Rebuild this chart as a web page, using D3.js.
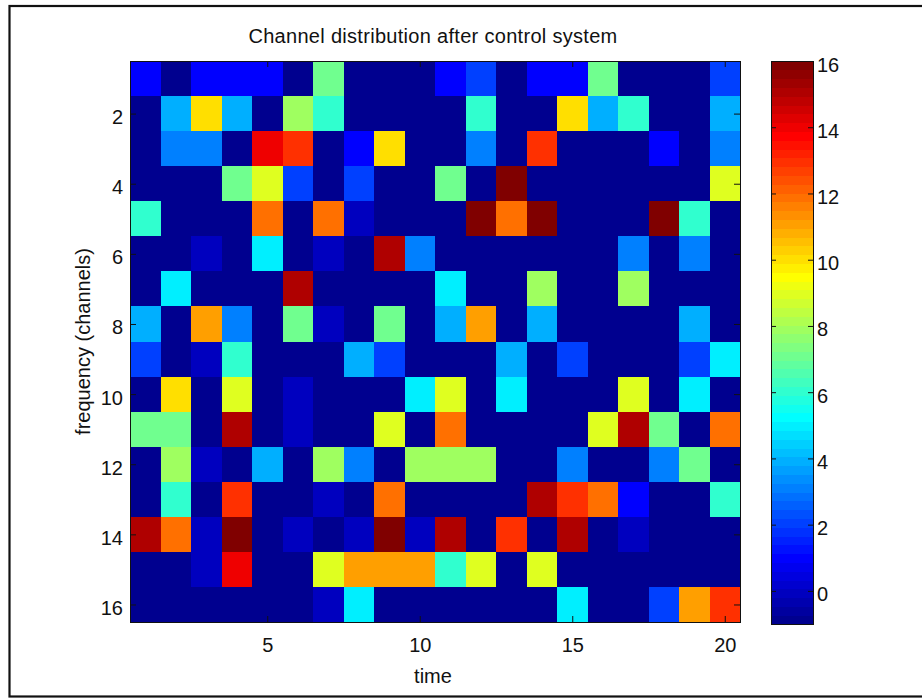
<!DOCTYPE html>
<html><head><meta charset="utf-8">
<script src="https://cdn.jsdelivr.net/npm/d3@7"></script>
<style>
html,body{margin:0;padding:0;background:#fff;}
svg{display:block;}
text{font-family:"Liberation Sans",Arial,Helvetica,sans-serif;fill:#111;}
</style>
</head><body>
<svg id="chart" width="922" height="698"></svg>
<script>
// ---------- data ----------
const timeSlots = [1,2,3,4,5,6,7,8,9,10,11,12,13,14,15,16,17,18,19,20];
const channels  = [1,2,3,4,5,6,7,8,9,10,11,12,13,14,15,16];
const xTicks = [5,10,15,20];
const yTicks = [2,4,6,8,10,12,14,16];
const colorTicks = [0,2,4,6,8,10,12,14,16];
// one row per channel, one value per time slot
const distribution = [
  [ 1,-1, 1, 1, 1,-1, 7,-1,-1,-1, 1, 2,-1, 1, 1, 7,-1,-1,-1, 2],
  [-1, 4,10, 4,-1, 8, 6,-1,-1,-1,-1, 6,-1,-1,10, 4, 6,-1,-1, 4],
  [-1, 3, 3,-1,14,13,-1, 1,10,-1,-1, 3,-1,13,-1,-1,-1, 1,-1, 3],
  [-1,-1,-1, 7, 9, 2,-1, 2,-1,-1, 7,-1,16,-1,-1,-1,-1,-1,-1, 9],
  [ 6,-1,-1,-1,12,-1,12, 0,-1,-1,-1,16,12,16,-1,-1,-1,16, 6,-1],
  [-1,-1, 0,-1, 5,-1, 0,-1,15, 3,-1,-1,-1,-1,-1,-1, 3,-1, 3,-1],
  [-1, 5,-1,-1,-1,15,-1,-1,-1,-1, 5,-1,-1, 8,-1,-1, 8,-1,-1,-1],
  [ 4,-1,11, 3,-1, 7, 0,-1, 7,-1, 4,11,-1, 4,-1,-1,-1,-1, 4,-1],
  [ 2,-1, 0, 6,-1,-1,-1, 4, 2,-1,-1,-1, 4,-1, 2,-1,-1,-1, 2, 5],
  [-1,10,-1, 9,-1, 0,-1,-1,-1, 5, 9,-1, 5,-1,-1,-1, 9,-1, 5,-1],
  [ 7, 7,-1,15,-1, 0,-1,-1, 9,-1,12,-1,-1,-1,-1, 9,15, 7,-1,12],
  [-1, 8, 0,-1, 4,-1, 8, 3,-1, 8, 8, 8,-1,-1, 3,-1,-1, 3, 7,-1],
  [-1, 6,-1,13,-1,-1, 0,-1,12,-1,-1,-1,-1,15,13,12, 1,-1,-1, 6],
  [15,12, 0,16,-1, 0,-1, 0,16, 0,15,-1,13,-1,15,-1, 0,-1,-1,-1],
  [-1,-1, 0,14,-1,-1, 9,11,11,11, 6, 9,-1, 9,-1,-1,-1,-1,-1,-1],
  [-1,-1,-1,-1,-1,-1, 0, 5,-1,-1,-1,-1,-1,-1, 5,-1,-1, 2,11,13]
];
const titleText = "Channel distribution after control system";
const xLabelText = "time";
const yLabelText = "frequency (channels)";

// ---------- MATLAB jet colormap (64 levels) ----------
function jet(m){
  const n = Math.ceil(m/4), u = [];
  for (let k=1;k<=n;k++) u.push(k/n);
  for (let k=1;k<n;k++) u.push(1);
  for (let k=n;k>=1;k--) u.push(k/n);
  const off = Math.ceil(n/2) - (m%4===1?1:0);
  const out = [];
  for (let j=1;j<=m;j++){
    const g = u[j-off-1] ?? 0, r = u[j-off-n-1] ?? 0, b = u[j-off+n-1] ?? 0;
    out.push(d3.rgb(Math.round(255*r),Math.round(255*g),Math.round(255*b)).formatHex());
  }
  return out;
}
const palette = jet(64);
const cells = [];
distribution.forEach((row,ri)=>row.forEach((v,ci)=>cells.push({t:timeSlots[ci],ch:channels[ri],v})));
const cDomain = d3.extent(cells,d=>d.v);
const color = d3.scaleQuantize().domain(cDomain).range(palette);

// ---------- layout ----------
const svg = d3.select("#chart");
const P = {l:130, r:740, t:61, b:622};
const CB = {l:771, r:813, t:61, b:624};
const FS = 20;

// figure frame
svg.append("rect").attr("x",9.5).attr("y",6).attr("width",1000).attr("height",690.5)
  .attr("fill","#fff").attr("stroke","#111").attr("stroke-width",2.2);

const x = d3.scaleLinear().domain([0.5, timeSlots.length+0.5]).range([P.l,P.r]);
const y = d3.scaleLinear().domain([0.5, channels.length+0.5]).range([P.t,P.b]);

svg.append("g").attr("shape-rendering","crispEdges")
  .selectAll("rect").data(cells).join("rect")
  .attr("x",d=>x(d.t-0.5)).attr("y",d=>y(d.ch-0.5))
  .attr("width",d=>x(d.t+0.5)-x(d.t-0.5)+0.5).attr("height",d=>y(d.ch+0.5)-y(d.ch-0.5)+0.5)
  .attr("fill",d=>color(d.v));

function styleAxis(g, fontSize){
  g.select(".domain").remove();
  g.selectAll(".tick line").attr("stroke","#111").attr("stroke-width",1);
  g.selectAll(".tick text").attr("font-size",fontSize).attr("font-family",null).attr("fill","#111");
}
const TL = 6;
// bottom
svg.append("g").attr("transform",`translate(0,${P.b})`)
  .call(d3.axisBottom(x).tickValues(xTicks).tickSizeInner(-TL).tickSizeOuter(0).tickPadding(15.5))
  .call(g=>styleAxis(g,FS));
// top
svg.append("g").attr("transform",`translate(0,${P.t})`)
  .call(d3.axisTop(x).tickValues(xTicks).tickSizeInner(-TL).tickSizeOuter(0).tickFormat(""))
  .call(g=>styleAxis(g,FS));
// left
svg.append("g").attr("transform",`translate(${P.l},0)`)
  .call(d3.axisLeft(y).tickValues(yTicks).tickSizeInner(-TL).tickSizeOuter(0).tickPadding(7))
  .call(g=>{styleAxis(g,FS); g.selectAll(".tick text").attr("dy","0.5em");});
// right
svg.append("g").attr("transform",`translate(${P.r},0)`)
  .call(d3.axisRight(y).tickValues(yTicks).tickSizeInner(-TL).tickSizeOuter(0).tickFormat(""))
  .call(g=>styleAxis(g,FS));
// box
svg.append("rect").attr("x",P.l).attr("y",P.t).attr("width",P.r-P.l).attr("height",P.b-P.t)
  .attr("fill","none").attr("stroke","#111").attr("stroke-width",1).attr("shape-rendering","crispEdges");

// ---------- colorbar ----------
const cy = d3.scaleLinear().domain(cDomain).range([CB.b,CB.t]);
const step = (cDomain[1]-cDomain[0])/palette.length;
svg.append("g").attr("shape-rendering","crispEdges")
  .selectAll("rect").data(palette).join("rect")
  .attr("x",CB.l).attr("width",CB.r-CB.l)
  .attr("y",(d,i)=>cy(cDomain[0]+(i+1)*step))
  .attr("height",(d,i)=>cy(cDomain[0]+i*step)-cy(cDomain[0]+(i+1)*step)+0.6)
  .attr("fill",d=>d);
svg.append("g").attr("transform",`translate(${CB.r},0)`)
  .call(d3.axisRight(cy).tickValues(colorTicks).tickSizeInner(-5).tickSizeOuter(0).tickPadding(4))
  .call(g=>{styleAxis(g,FS); g.selectAll(".tick text").attr("dy","0.5em");});
svg.append("g").attr("transform",`translate(${CB.l},0)`)
  .call(d3.axisLeft(cy).tickValues(colorTicks).tickSizeInner(-5).tickSizeOuter(0).tickFormat(""))
  .call(g=>styleAxis(g,FS));
svg.append("rect").attr("x",CB.l).attr("y",CB.t).attr("width",CB.r-CB.l).attr("height",CB.b-CB.t)
  .attr("fill","none").attr("stroke","#111").attr("stroke-width",1).attr("shape-rendering","crispEdges");

// ---------- labels ----------
svg.append("text").attr("x",433).attr("y",43).attr("text-anchor","middle")
  .attr("font-size",FS).attr("letter-spacing","0.3px").text(titleText);
svg.append("text").attr("x",433).attr("y",683).attr("text-anchor","middle")
  .attr("font-size",FS).text(xLabelText);
svg.append("text").attr("transform",`translate(90,${(P.t+P.b)/2}) rotate(-90)`)
  .attr("text-anchor","middle").attr("font-size",FS).text(yLabelText);
</script>
</body></html>
